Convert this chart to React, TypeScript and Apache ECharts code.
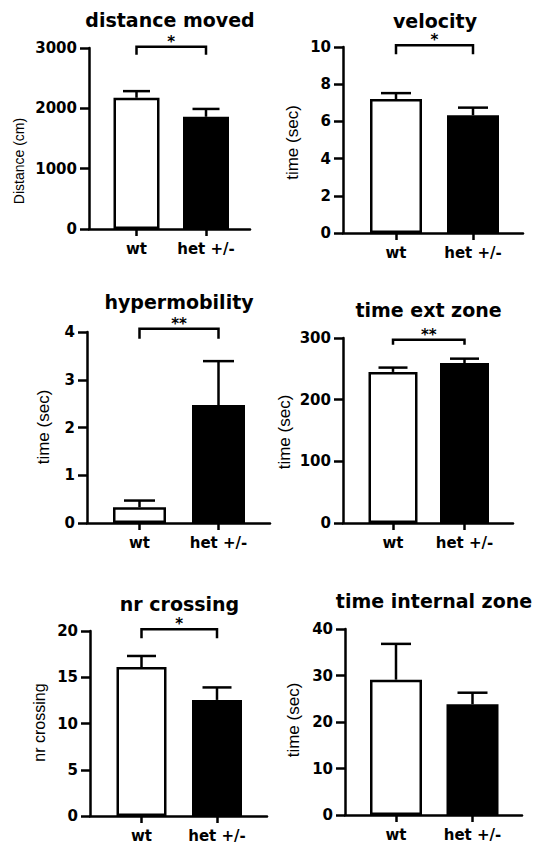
import React, { useEffect, useRef } from "react";
import * as echarts from "echarts";

// ---------- data ----------
const categories = ["wt", "het +/-"];
const panelTitles = [
  "distance moved",
  "velocity",
  "hypermobility",
  "time ext zone",
  "nr crossing",
  "time internal zone",
];
const axisNames = ["Distance (cm)", "time (sec)", "time (sec)", "time (sec)", "nr crossing", "time (sec)"];

const distanceMean = [2175, 1860];
const distanceSem = [110, 130];
const velocityMean = [7.2, 6.33];
const velocitySem = [0.32, 0.41];
const hyperMean = [0.33, 2.47];
const hyperSem = [0.14, 0.92];
const extZoneMean = [245, 259.5];
const extZoneSem = [7, 7];
const crossingMean = [16.1, 12.55];
const crossingSem = [1.2, 1.35];
const internalMean = [29.1, 23.8];
const internalSem = [7.7, 2.5];

const yMax = [3000, 10, 4, 300, 20, 40];
const yInterval = [1000, 2, 1, 100, 5, 10];
const significance = ["*", "*", "**", "**", "*", ""];
const bracketLevel: (number | null)[] = [3020, 10.1, 4.07, 297, 20.2, null];

const means = [distanceMean, velocityMean, hyperMean, extZoneMean, crossingMean, internalMean];
const sems = [distanceSem, velocitySem, hyperSem, extZoneSem, crossingSem, internalSem];

// ---------- layout (pixels) ----------
const layout = [
  { ax: 89, top: 48, right: 250, bottom: 229, t0: 136.5, t1: 206, bar: 48, nx: 18.5, ny: 161, ns: 14, tx: 170, ty: 20, drop: 8 },
  { ax: 343, top: 47, right: 523, bottom: 233, t0: 396, t1: 473, bar: 54, nx: 292.5, ny: 142.5, ns: 17, tx: 435, ty: 21, drop: 9 },
  { ax: 87, top: 332, right: 270, bottom: 523, t0: 139.5, t1: 218.5, bar: 55, nx: 43, ny: 427, ns: 17, tx: 179, ty: 302, drop: 10 },
  { ax: 343, top: 338, right: 513, bottom: 523, t0: 393, t1: 464.5, bar: 51, nx: 284.5, ny: 432, ns: 17, tx: 428.5, ty: 310, drop: 5 },
  { ax: 90, top: 631, right: 267, bottom: 816, t0: 141.5, t1: 217, bar: 52, nx: 39.5, ny: 722.5, ns: 16, tx: 179.5, ty: 604, drop: 9 },
  { ax: 345, top: 629, right: 522, bottom: 815, t0: 396, t1: 472.5, bar: 54, nx: 293.5, ny: 720, ns: 17, tx: 434, ty: 601, drop: 0 },
];

const LW = 2.5;
const tickFont = { fontFamily: "DejaVu Sans", fontWeight: "bold" as const, fontSize: 15, color: "#000" };

function buildOption() {
  const grid: any[] = [];
  const xAxis: any[] = [];
  const yAxis: any[] = [];
  const series: any[] = [];
  const graphic: any[] = [];

  layout.forEach((L, i) => {
    const unit = L.t1 - L.t0;
    grid.push({ left: L.ax, top: L.top, width: L.right - L.ax, height: L.bottom - L.top, containLabel: false });
    xAxis.push({
      type: "value",
      gridIndex: i,
      min: -(L.t0 - L.ax) / unit,
      max: 1 + (L.right - L.t1) / unit,
      axisLine: { show: true, onZero: false, lineStyle: { color: "#000", width: LW } },
      axisTick: { show: true, customValues: [0, 1], length: 7, lineStyle: { color: "#000", width: LW } },
      axisLabel: {
        ...tickFont,
        customValues: [0, 1],
        margin: 12,
        formatter: (v: number) => categories[Math.round(v)] ?? "",
      },
      splitLine: { show: false },
    });
    yAxis.push({
      type: "value",
      gridIndex: i,
      min: 0,
      max: yMax[i],
      interval: yInterval[i],
      axisLine: { show: true, onZero: false, lineStyle: { color: "#000", width: LW } },
      axisTick: { show: true, length: 9, lineStyle: { color: "#000", width: LW } },
      axisLabel: { ...tickFont, margin: 12, formatter: (v: number) => String(v) },
      splitLine: { show: false },
    });

    const m = means[i];
    const s = sems[i];
    series.push({
      type: "bar",
      xAxisIndex: i,
      yAxisIndex: i,
      barWidth: L.bar - 2,
      itemStyle: { borderColor: "#000", borderWidth: LW },
      data: categories.map((_, k) => ({
        value: [k, m[k]],
        itemStyle: { color: k === 0 ? "#ffffff" : "#000000", borderColor: "#000", borderWidth: LW },
      })),
      z: 2,
    });

    const cap = Math.round(L.bar * 0.56);
    series.push({
      type: "custom",
      xAxisIndex: i,
      yAxisIndex: i,
      z: 3,
      data: categories.map((_, k) => [k, m[k], m[k] + s[k]]),
      renderItem: (params: any, api: any) => {
        const x = api.value(0);
        const p0 = api.coord([x, api.value(1)]);
        const p1 = api.coord([x, api.value(2)]);
        return {
          type: "group",
          children: [
            { type: "line", shape: { x1: p0[0], y1: p0[1], x2: p1[0], y2: p1[1] }, style: { stroke: "#000", lineWidth: LW } },
            {
              type: "line",
              shape: { x1: p1[0] - cap / 2, y1: p1[1], x2: p1[0] + cap / 2, y2: p1[1] },
              style: { stroke: "#000", lineWidth: LW },
            },
          ],
        };
      },
    });

    const lvl = bracketLevel[i];
    if (lvl !== null && significance[i]) {
      const drop = L.drop;
      const star = significance[i];
      series.push({
        type: "custom",
        xAxisIndex: i,
        yAxisIndex: i,
        z: 4,
        clip: false,
        data: [[0, 1, lvl]],
        renderItem: (params: any, api: any) => {
          const a = api.coord([api.value(0), api.value(2)]);
          const b = api.coord([api.value(1), api.value(2)]);
          return {
            type: "group",
            children: [
              {
                type: "polyline",
                shape: { points: [[a[0], a[1] + drop], [a[0], a[1]], [b[0], b[1]], [b[0], b[1] + drop]] },
                style: { stroke: "#000", lineWidth: LW, fill: "none" },
              },
              {
                type: "text",
                x: (a[0] + b[0]) / 2,
                y: a[1] - 5,
                style: {
                  text: star,
                  fill: "#000",
                  font: "bold 15px 'DejaVu Sans'",
                  align: "center",
                  verticalAlign: "middle",
                  textAlign: "center",
                  textVerticalAlign: "middle",
                },
              },
            ],
          };
        },
      });
    }

    graphic.push({
      type: "text",
      x: L.tx,
      y: L.ty,
      style: {
        text: panelTitles[i],
        fill: "#000",
        font: "bold 19px 'DejaVu Sans'",
        align: "center",
        verticalAlign: "middle",
        textAlign: "center",
        textVerticalAlign: "middle",
      },
    });
    graphic.push({
      type: "text",
      x: L.nx,
      y: L.ny,
      rotation: Math.PI / 2,
      style: {
        text: axisNames[i],
        fill: "#000",
        font: `${L.ns}px 'Liberation Sans', Arial, sans-serif`,
        align: "center",
        verticalAlign: "middle",
        textAlign: "center",
        textVerticalAlign: "middle",
      },
    });
  });

  return {
    animation: false,
    backgroundColor: "#ffffff",
    grid,
    xAxis,
    yAxis,
    series,
    graphic,
  };
}

export default function App() {
  const ref = useRef<HTMLDivElement>(null);
  useEffect(() => {
    if (!ref.current) return;
    const chart = echarts.init(ref.current, undefined, { renderer: "svg" });
    chart.setOption(buildOption() as any);
    return () => chart.dispose();
  }, []);
  return (
    <div
      ref={ref}
      style={{ position: "absolute", left: 0, top: 0, width: 542, height: 844, background: "#fff" }}
    />
  );
}
